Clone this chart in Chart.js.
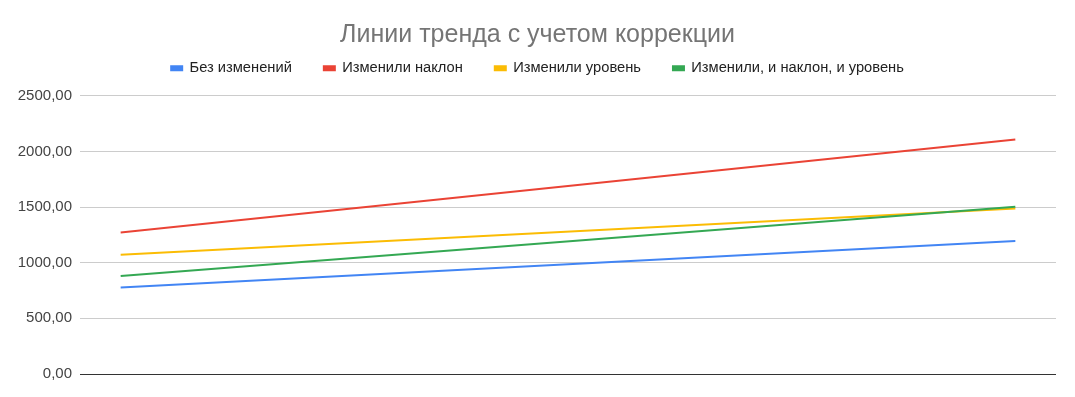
<!DOCTYPE html>
<html>
<head>
<meta charset="utf-8">
<script src="https://cdn.jsdelivr.net/npm/chart.js@4"></script>
<style>
  html, body { margin: 0; padding: 0; background: #fff; }
  #wrap { width: 1075px; height: 397px; }
</style>
</head>
<body>
<div id="wrap"><canvas id="chart"></canvas></div>
<script>
// 12 periods on the x axis (labels are not shown in the original)
const periods = ['1', '2', '3', '4', '5', '6', '7', '8', '9', '10', '11', '12'];

// only the start and end of each trend line are readable
const noChange    = [777,  null, null, null, null, null, null, null, null, null, null, 1195];
const slopeChange = [1272, null, null, null, null, null, null, null, null, null, null, 2106];
const levelChange = [1072, null, null, null, null, null, null, null, null, null, null, 1487];
const bothChange  = [881,  null, null, null, null, null, null, null, null, null, null, 1503];

const seriesNames = ['Без изменений', 'Изменили наклон', 'Изменили уровень', 'Изменили, и наклон, и уровень'];
const colors = ['#4285f4', '#ea4335', '#fbbc04', '#34a853'];
const yTicks = [0, 500, 1000, 1500, 2000, 2500];

const font = 'Arial, "Liberation Sans", sans-serif';

function line(name, data, color, order) {
    return {
        label: name,
        data: data,
        borderColor: color,
        backgroundColor: color,
        borderWidth: 2,
        pointRadius: 0,
        pointHoverRadius: 0,
        spanGaps: true,
        tension: 0,
        order: order
    };
}

// extra room under the legend, before the plot area
const legendGap = {
    id: 'legendGap',
    beforeInit(chart) {
        const fit = chart.legend.fit;
        chart.legend.fit = function () {
            fit.call(this);
            this.height += 10;
        };
    }
};

new Chart(document.getElementById('chart'), {
    type: 'line',
    data: {
        labels: periods,
        datasets: [
            line(seriesNames[0], noChange, colors[0], 3),
            line(seriesNames[1], slopeChange, colors[1], 2),
            line(seriesNames[2], levelChange, colors[2], 1),
            line(seriesNames[3], bothChange, colors[3], 0)
        ]
    },
    options: {
        responsive: true,
        maintainAspectRatio: false,
        animation: false,
        layout: { padding: { left: 0, right: 0, top: 0, bottom: 15 } },
        plugins: {
            title: {
                display: true,
                text: 'Линии тренда с учетом коррекции',
                color: '#757575',
                font: { family: font, size: 25, weight: 'normal' },
                padding: { top: 20, bottom: -21 }
            },
            legend: {
                position: 'top',
                labels: {
                    color: '#222',
                    font: { family: font, size: 14.7 },
                    boxWidth: 11,
                    boxHeight: 4,
                    padding: 32,
                    sort: (a, b) => a.datasetIndex - b.datasetIndex
                }
            },
            tooltip: { enabled: false }
        },
        scales: {
            x: {
                offset: true,
                grid: { display: false },
                border: { display: false },
                ticks: { display: false }
            },
            y: {
                min: 0,
                max: 2500,
                afterBuildTicks: s => { s.ticks = yTicks.map(v => ({ value: v })); },
                afterFit: s => { s.width = 80; },
                border: { display: false },
                grid: {
                    color: c => c.tick.value === 0 ? '#333' : '#ccc',
                    lineWidth: 1,
                    drawTicks: false
                },
                ticks: {
                    color: '#444',
                    font: { family: font, size: 15 },
                    padding: 8,
                    callback: v => v.toFixed(2).replace('.', ',')
                }
            },
            // empty right margin so the title and legend stay centred on the page
            yRight: {
                position: 'right',
                afterFit: s => { s.width = 19; },
                grid: { display: false },
                border: { display: false },
                ticks: { display: false }
            }
        }
    },
    plugins: [legendGap]
});
</script>
</body>
</html>
